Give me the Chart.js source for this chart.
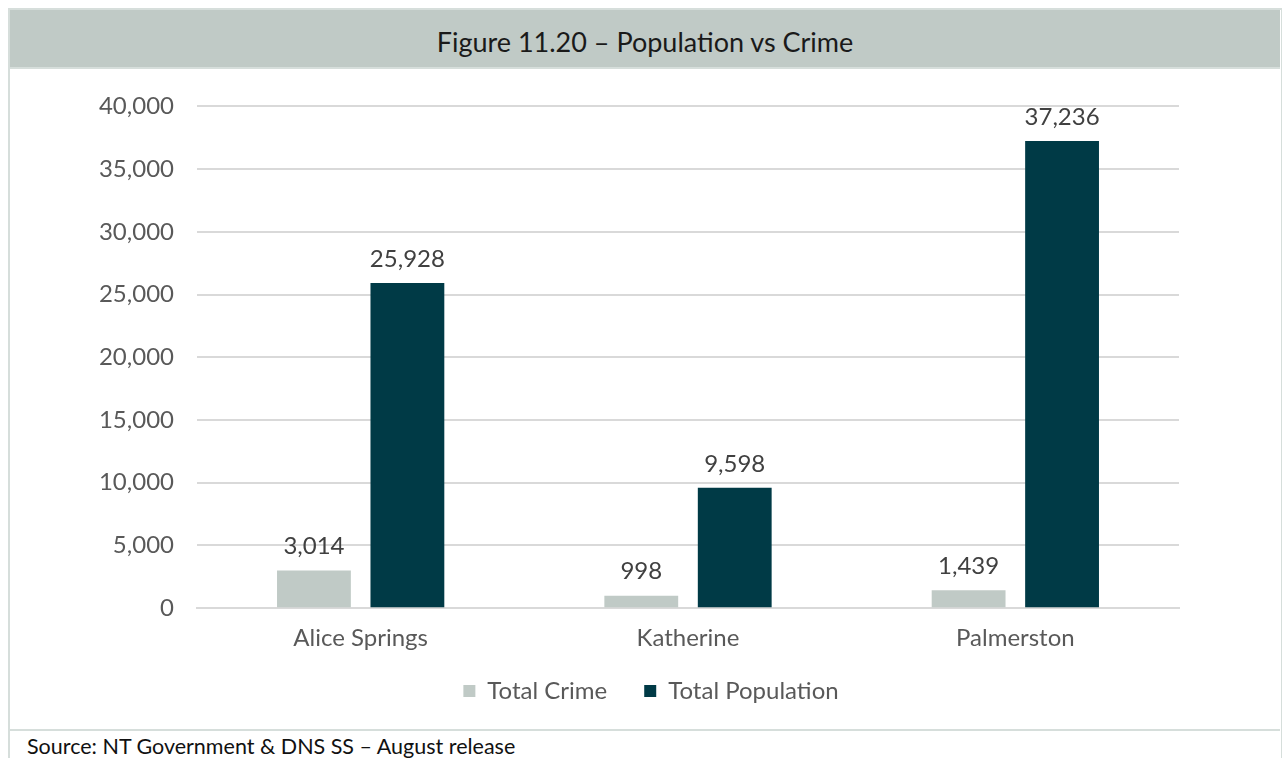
<!DOCTYPE html>
<html>
<head>
<meta charset="utf-8">
<script src="https://cdn.jsdelivr.net/npm/chart.js@4.4.0/dist/chart.umd.min.js"></script>
<style>
  html, body { margin: 0; padding: 0; background: #ffffff; }
  body { width: 1282px; height: 758px; position: relative; overflow: hidden; font-family: Lato, "Open Sans", sans-serif; }
  .frame { position: absolute; left: 8px; top: 8px; width: 1271px; height: 760px; border-left: 2px solid #d6dedb; border-right: 2px solid #d6dedb; border-top: 2px solid #d6dedb; }
  .title-bar { position: absolute; left: 10px; top: 10px; width: 1270px; height: 57px; background: #c0cac6; border-bottom: 2px solid #d6dedb;
    text-align: center; line-height: 64px; font-size: 27px; font-weight: 400; color: #1a1a1a; }
  .chart-box { position: absolute; left: 10px; top: 69px; width: 1270px; height: 660px; }
  .sep { position: absolute; left: 10px; top: 729px; width: 1270px; height: 2px; background: #d6dedb; }
  .source { position: absolute; left: 27px; top: 733px; font-size: 21.5px; color: #111; }
</style>
</head>
<body>
<div class="frame"></div>
<div class="title-bar">Figure 11.20 – Population vs Crime</div>
<div class="chart-box"><canvas id="popCrimeChart" width="1270" height="660"></canvas></div>
<div class="sep"></div>
<div class="source">Source: NT Government &amp; DNS SS – August release</div>

<script>
const towns = ['Alice Springs', 'Katherine', 'Palmerston'];
const totalCrime = [3014, 998, 1439];
const totalPopulation = [25928, 9598, 37236];
const yMax = 40000;
const yStep = 5000;

// value labels above each bar
const barLabels = {
  id: 'barLabels',
  afterDatasetsDraw(chart) {
    const ctx = chart.ctx;
    ctx.save();
    ctx.font = '24px Lato';
    ctx.fillStyle = '#404040';
    ctx.textAlign = 'center';
    ctx.textBaseline = 'middle';
    chart.data.datasets.forEach((ds, i) => {
      chart.getDatasetMeta(i).data.forEach((bar, j) => {
        ctx.fillText(ds.data[j].toLocaleString('en-US'), bar.x, bar.y - 24);
      });
    });
    ctx.restore();
  }
};

// centre the legend on the whole box and pull it up a bit
const legendPlace = {
  id: 'legendPlace',
  afterLayout(chart) {
    const lg = chart.legend;
    lg.left = 0;
    lg.right = chart.width + 12;
    lg.top -= 19;
    lg.bottom -= 19;
  }
};

const ctx = document.getElementById('popCrimeChart').getContext('2d');
new Chart(ctx, {
  type: 'bar',
  data: {
    labels: towns,
    datasets: [
      {
        label: 'Total Crime',
        data: totalCrime,
        backgroundColor: '#c0cac6',
        borderWidth: 0,
      },
      {
        label: 'Total Population',
        data: totalPopulation,
        backgroundColor: '#003a46',
        borderWidth: 0,
      },
    ],
  },
  options: {
    responsive: false,
    animation: false,
    categoryPercentage: 0.571,
    barPercentage: 0.79,
    layout: { padding: { top: 36, right: 101, left: 0, bottom: -3 } },
    plugins: {
      tooltip: { enabled: false },
      legend: {
        position: 'bottom',
        labels: {
          boxWidth: 12,
          boxHeight: 12,
          padding: 37,
          color: '#595959',
          font: { family: 'Lato', size: 24 },
        },
      },
    },
    scales: {
      x: {
        grid: { display: false },
        border: { color: '#d9d9d9', width: 2 },
        ticks: { color: '#595959', font: { family: 'Lato', size: 24 }, padding: 8 },
      },
      y: {
        min: 0,
        max: yMax,
        afterFit(scale) { scale.width = 187; },
        border: { display: false },
        grid: { color: '#d9d9d9', lineWidth: 2, drawTicks: false },
        ticks: {
          stepSize: yStep,
          padding: 23,
          color: '#595959',
          font: { family: 'Lato', size: 24 },
          callback: (v) => v.toLocaleString('en-US'),
        },
      },
    },
  },
  plugins: [barLabels, legendPlace],
});
</script>
</body>
</html>
